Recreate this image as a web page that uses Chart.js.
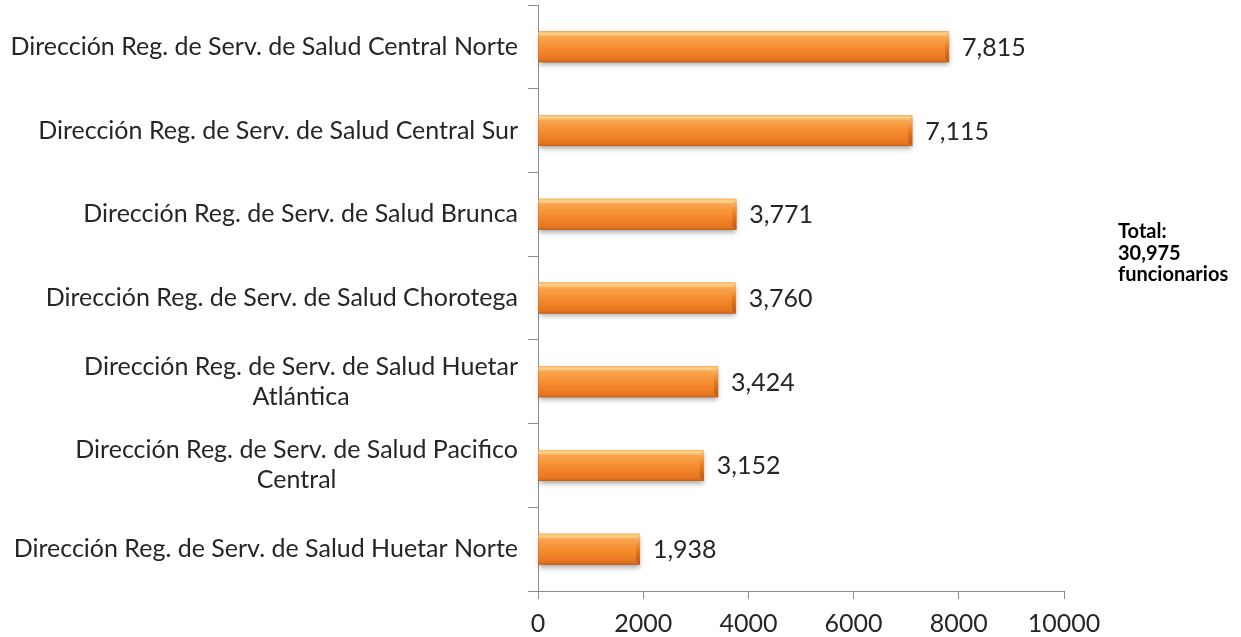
<!DOCTYPE html>
<html>
<head>
<meta charset="utf-8">
<script src="https://cdn.jsdelivr.net/npm/chart.js@4"></script>
<style>
  html, body { margin: 0; padding: 0; background: #ffffff; }
  #wrap { width: 1241px; height: 637px; }
</style>
</head>
<body>
<div id="wrap"><canvas id="chart-funcionarios"></canvas></div>
<script>
const regiones = [
  "Dirección Reg. de Serv. de Salud Central Norte",
  "Dirección Reg. de Serv. de Salud Central Sur",
  "Dirección Reg. de Serv. de Salud Brunca",
  "Dirección Reg. de Serv. de Salud Chorotega",
  ["Dirección Reg. de Serv. de Salud Huetar", "Atlántica"],
  ["Dirección Reg. de Serv. de Salud Pacifico", "Central"],
  "Dirección Reg. de Serv. de Salud Huetar Norte",
];
const funcionarios = [7815, 7115, 3771, 3760, 3424, 3152, 1938];
const xMin = 0;
const xMax = 10000;
const xStep = 2000;
const totalTexto = ["Total:", "30,975", "funcionarios"];

const colors = {
  axis: "#8c8c8c",
  text: "#262626",
  orange: "#f48a2c",
};

const fontFamily = "Lato, 'Open Sans', sans-serif";

// etiquetas del eje Y: linea por linea centradas, bloque alineado a la derecha
const yLabelsPlugin = {
  id: "yLabels",
  afterDraw(chart) {
    const ctx = chart.ctx;
    const y = chart.scales.y;
    ctx.save();
    ctx.font = "25px " + fontFamily;
    ctx.fillStyle = colors.text;
    ctx.textBaseline = "middle";
    ctx.textAlign = "center";
    const right = y.right - 20;
    const lineH = 30;
    y.ticks.forEach((t, i) => {
      const label = regiones[i];
      const lines = Array.isArray(label) ? label : [label];
      const maxW = Math.max(...lines.map((l) => ctx.measureText(l).width));
      const cx = right - maxW / 2;
      const py = y.getPixelForTick(i);
      const start = py - ((lines.length - 1) * lineH) / 2;
      lines.forEach((l, k) => ctx.fillText(l, cx, start + k * lineH));
    });
    ctx.restore();
  },
};

// barras con degradado y sombra, y los valores a la derecha
const barStylePlugin = {
  id: "barStyle",
  afterDatasetsDraw(chart) {
    const ctx = chart.ctx;
    const meta = chart.getDatasetMeta(0);
    ctx.save();
    meta.data.forEach((el, i) => {
      const p = el.getProps(["x", "y", "base", "height"], true);
      const top = p.y - p.height / 2;
      const left = Math.min(p.base, p.x);
      const w = Math.abs(p.x - p.base);
      const h = p.height;
      const g = ctx.createLinearGradient(0, top, 0, top + h);
      g.addColorStop(0, "#f9b25e");
      g.addColorStop(0.08, "#fdd591");
      g.addColorStop(0.18, "#f9a54c");
      g.addColorStop(0.55, "#f58b2f");
      g.addColorStop(0.9, "#e9761f");
      g.addColorStop(1, "#c9621a");
      ctx.shadowColor = "rgba(0,0,0,0.35)";
      ctx.shadowBlur = 5;
      ctx.shadowOffsetY = 3;
      ctx.fillStyle = g;
      ctx.fillRect(left, top, w, h);
      ctx.shadowColor = "transparent";
      // extremo derecho biselado
      const r = ctx.createLinearGradient(0, top, 0, top + h);
      r.addColorStop(0, "#fbc57a");
      r.addColorStop(0.5, "#e97a22");
      r.addColorStop(1, "#b9561a");
      ctx.fillStyle = r;
      ctx.beginPath();
      ctx.moveTo(left + w, top);
      ctx.lineTo(left + w, top + h);
      ctx.lineTo(left + w - 4, top + h - 4);
      ctx.lineTo(left + w - 4, top + 6);
      ctx.closePath();
      ctx.fill();

      ctx.font = "25px " + fontFamily;
      ctx.fillStyle = colors.text;
      ctx.textBaseline = "middle";
      ctx.textAlign = "left";
      ctx.fillText(funcionarios[i].toLocaleString("en-US"), p.x + 13, p.y + 1);
    });
    ctx.restore();
  },
};

const totalPlugin = {
  id: "totalNote",
  afterDraw(chart) {
    const ctx = chart.ctx;
    ctx.save();
    ctx.font = "bold 20px " + fontFamily;
    ctx.fillStyle = "#000000";
    ctx.textBaseline = "middle";
    ctx.textAlign = "left";
    totalTexto.forEach((t, k) => ctx.fillText(t, 1118, 232 + k * 21.5));
    ctx.restore();
  },
};

function renderChartFuncionarios() {
  const data = {
    labels: regiones,
    datasets: [
      {
        label: "Funcionarios",
        data: funcionarios,
        backgroundColor: colors.orange,
        borderWidth: 0,
        barPercentage: 0.37,
        categoryPercentage: 1,
      },
    ],
  };

  const config = {
    type: "bar",
    data: data,
    options: {
      indexAxis: "y",
      responsive: false,
      animation: false,
      devicePixelRatio: 1,
      layout: { padding: { top: 5, right: 177, left: 0, bottom: 0 } },
      plugins: {
        legend: { display: false },
        tooltip: { enabled: false },
      },
      scales: {
        x: {
          min: xMin,
          max: xMax,
          ticks: {
            stepSize: xStep,
            color: colors.text,
            font: { family: fontFamily, size: 25 },
            padding: 10,
            callback: (v) => String(v),
          },
          grid: {
            drawOnChartArea: false,
            color: colors.axis,
            tickLength: 8,
          },
          border: { color: colors.axis },
          afterFit(scale) {
            scale.height = 46;
          },
        },
        y: {
          ticks: {
            color: "rgba(0,0,0,0)",
            font: { family: fontFamily, size: 1 },
            padding: 0,
          },
          grid: {
            offset: true,
            drawOnChartArea: false,
            color: colors.axis,
            tickLength: 10,
          },
          border: { color: colors.axis },
          afterFit(scale) {
            scale.width = 538;
          },
        },
      },
    },
    plugins: [barStylePlugin, yLabelsPlugin, totalPlugin],
  };

  const canvas = document.getElementById("chart-funcionarios");
  canvas.width = 1241;
  canvas.height = 637;
  const myChart = new Chart(canvas, config);
}

renderChartFuncionarios();
</script>
</body>
</html>
